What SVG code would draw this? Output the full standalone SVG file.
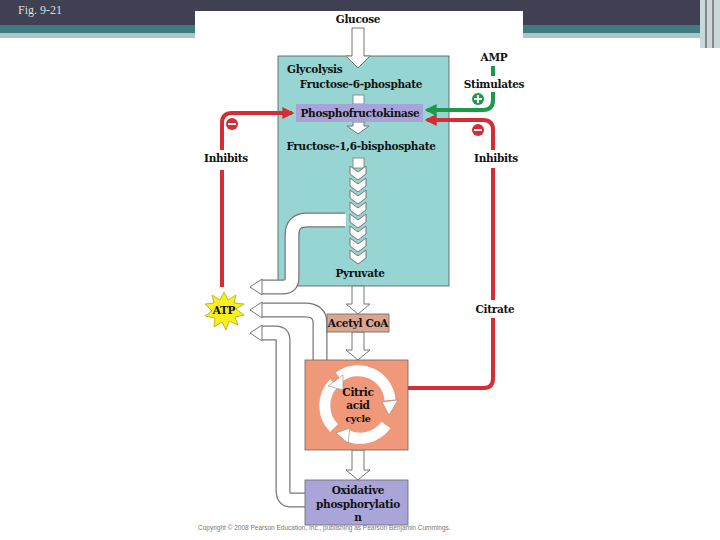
<svg xmlns="http://www.w3.org/2000/svg" width="720" height="540" viewBox="0 0 720 540">
<defs>
<style>
.t{font-family:"DejaVu Serif","Liberation Serif",serif;font-weight:bold;font-size:10.5px;fill:#111;text-anchor:middle;letter-spacing:-0.3px}
.red{fill:none;stroke:#d42d36;stroke-width:4}
.grn{fill:none;stroke:#1a9a4a;stroke-width:4}
.to{fill:none;stroke:#777;stroke-width:15}
.ti{fill:none;stroke:#fff;stroke-width:12.5}
.wa{fill:#fff;stroke:#777;stroke-width:1}
</style>
<marker id="ar" viewBox="0 0 10 10" refX="8" refY="5" markerWidth="3" markerHeight="3" orient="auto"><path d="M0,0L10,5L0,10z" fill="#d42d36"/></marker>
<marker id="ag" viewBox="0 0 10 10" refX="8" refY="5" markerWidth="3" markerHeight="3" orient="auto"><path d="M0,0L10,5L0,10z" fill="#1a9a4a"/></marker>
<g id="chev"><path d="M-8,-6 L0,0 L8,-6 L8,2 L0,8 L-8,2 Z" fill="#fff" stroke="#777" stroke-width="1"/></g>
</defs>
<rect width="720" height="540" fill="#fff"/>
<rect width="720" height="25" fill="#404053"/>
<rect y="25" width="720" height="8" fill="#3f7b80"/>
<rect y="33" width="720" height="5" fill="#a9c5c5"/>
<rect x="700" y="0" width="20" height="48" fill="#c9d8d8"/>
<line x1="706" y1="0" x2="706" y2="48" stroke="#888" stroke-width="2"/>
<line x1="713" y1="0" x2="713" y2="48" stroke="#888" stroke-width="2"/>
<text x="18" y="14" style="font-family:'Liberation Serif',serif;font-size:12px;fill:#ddd">Fig. 9-21</text>
<rect x="195" y="11" width="328" height="520" fill="#fff"/>

<g id="glycolysis">
<rect x="278" y="56" width="171" height="230" fill="#97d5d2" stroke="#555" stroke-width="0.8"/>
<text class="t" x="287" y="73" style="text-anchor:start">Glycolysis</text>
<text class="t" x="361" y="88">Fructose-6-phosphate</text>
<text class="t" x="361" y="150">Fructose-1,6-bisphosphate</text>
<text class="t" x="360" y="277">Pyruvate</text>
</g>
<g id="glucose"><text class="t" x="358" y="23">Glucose</text></g>

<g id="connectors">
<path class="wa" d="M352,28 H364 V56 L370,56 L358,68 L346,56 L352,56 Z"/>
<rect x="353" y="95" width="11" height="9" fill="#fff" stroke="#777" stroke-width="0.8"/>
<path class="wa" d="M353,122 H364 V126 L369,126 L358,134 L347,126 L353,126 Z"/>
<rect x="353" y="158" width="11" height="10" fill="#fff" stroke="#777" stroke-width="0.8"/>
<use href="#chev" x="358" y="172"/><use href="#chev" x="358" y="184"/><use href="#chev" x="358" y="196"/>
<use href="#chev" x="358" y="208"/><use href="#chev" x="358" y="220"/><use href="#chev" x="358" y="232"/>
<use href="#chev" x="358" y="244"/><use href="#chev" x="358" y="256"/>
<path class="wa" d="M352,286 H364 V304 L370,304 L358,314 L346,304 L352,304 Z"/>
<path class="wa" d="M352,332 H364 V350 L370,350 L358,360 L346,350 L352,350 Z"/>
<path class="wa" d="M352,450 H364 V470 L370,470 L358,480 L346,470 L352,470 Z"/>

<path class="to" d="M345,220 H307 Q292,220 292,235 V278 Q292,287 283,287 H262"/>
<path class="ti" d="M346,220 H307 Q292,220 292,235 V278 Q292,287 283,287 H261"/>
<path class="to" d="M320,360 V323 Q320,310 305,310 H262"/>
<path class="ti" d="M320,361 V323 Q320,310 305,310 H261"/>
<path class="to" d="M305,500 H290 Q283,500 283,490 V340 Q283,333 276,333 H262"/>
<path class="ti" d="M306,500 H290 Q283,500 283,490 V340 Q283,333 276,333 H261"/>
<path class="wa" d="M262,279 V295 L250,287 Z"/>
<path class="wa" d="M262,302 V318 L250,310 Z"/>
<path class="wa" d="M262,325 V341 L250,333 Z"/>

<path class="red" d="M222,287 V170"/>
<path class="red" d="M222,150 V123 Q222,113 232,113 H292" marker-end="url(#ar)"/>
<path class="red" d="M408,388 H484 Q493,388 493,378 V318"/>
<path class="red" d="M493,300 V168"/>
<path class="red" d="M493,150 V130 Q493,120 483,120 H427" marker-end="url(#ar)"/>
<path class="grn" d="M493,66 V76"/>
<path class="grn" d="M493,92 V100 Q493,110 483,110 H427" marker-end="url(#ag)"/>
<circle cx="232" cy="124" r="6" fill="#d42d36"/><rect x="228" y="123" width="8" height="2" fill="#fff"/>
<circle cx="478" cy="130" r="6" fill="#d42d36"/><rect x="474" y="129" width="8" height="2" fill="#fff"/>
<circle cx="478" cy="99" r="6" fill="#1a9a4a"/><rect x="474" y="98" width="8" height="2" fill="#fff"/><rect x="477" y="95" width="2" height="8" fill="#fff"/>
<text class="t" x="226" y="162">Inhibits</text>
<text class="t" x="496" y="162">Inhibits</text>
<text class="t" x="495" y="313">Citrate</text>
<text class="t" x="494" y="61">AMP</text>
<text class="t" x="494" y="88">Stimulates</text>
</g>

<g id="pfk">
<rect x="296" y="104" width="127" height="18" fill="#a9a2d8"/>
<text class="t" x="360" y="117">Phosphofructokinase</text>
</g>

<g id="atp">
<polygon points="224,292 228,300 236,295 234,303 244,304 236,309 244,315 235,317 238,325 229,321 226,330 222,322 214,327 215,318 205,316 212,311 205,304 214,303 212,295 220,300" fill="#f7ef1e" stroke="#b8a800" stroke-width="0.8"/>
<text class="t" x="224" y="314">ATP</text>
</g>

<g id="acetylcoa">
<rect x="327" y="314" width="62" height="18" fill="#dba68f" stroke="#666" stroke-width="0.8"/>
<text class="t" x="358" y="327">Acetyl CoA</text>
</g>

<g id="citric">
<rect x="305" y="360" width="103" height="90" fill="#f0987a" stroke="#666" stroke-width="0.8"/>
<path d="M339,377 A32,32 0 0 1 390,400" fill="none" stroke="#fff" stroke-width="11"/>
<path d="M386,425 A32,32 0 0 1 346,435" fill="none" stroke="#fff" stroke-width="11"/>
<path d="M334,428 A32,32 0 0 1 334,383" fill="none" stroke="#fff" stroke-width="11"/>
<polygon points="382,402 398,400 389,415" fill="#fff" stroke="#888" stroke-width="0.6"/>
<polygon points="350,428 348,443 336,433" fill="#fff" stroke="#888" stroke-width="0.6"/>
<polygon points="328,386 343,375 343,390" fill="#fff" stroke="#888" stroke-width="0.6"/>
<text class="t" x="358" y="396">Citric</text>
<text class="t" x="358" y="409">acid</text>
<text class="t" x="358" y="422" style="font-size:9.5px">cycle</text>
</g>

<g id="oxphos">
<rect x="305" y="480" width="103" height="45" fill="#a9a5d8" stroke="#666" stroke-width="0.8"/>
<text class="t" x="358" y="494">Oxidative</text>
<text class="t" x="358" y="508">phosphorylatio</text>
<text class="t" x="358" y="521">n</text>
</g>
<text x="198" y="530" style="font-family:'Liberation Sans',sans-serif;font-size:6.5px;fill:#777">Copyright © 2008 Pearson Education, Inc., publishing as Pearson Benjamin Cummings.</text>
</svg>
